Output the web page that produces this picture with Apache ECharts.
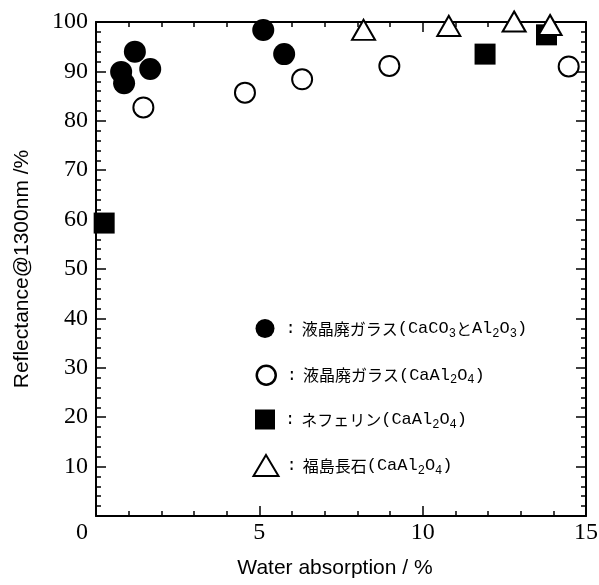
<!DOCTYPE html>
<html>
<head>
<meta charset="utf-8">
<script src="https://cdn.jsdelivr.net/npm/echarts@6/dist/echarts.min.js"></script>
<style>
  html, body { margin: 0; padding: 0; background: #fff; }
  #chart { width: 599px; height: 585px; }
</style>
</head>
<body>
<div id="chart"></div>
<script>
// Reflectance at 1300 nm (%) against water absorption (%)
const seriesNames = [
  '液晶廃ガラス(CaCO3とAl2O3)',
  '液晶廃ガラス(CaAl2O4)',
  'ネフェリン(CaAl2O4)',
  '福島長石(CaAl2O4)'
];
// [water absorption %, reflectance %]
const glassCaCO3Al2O3 = [[0.77, 89.9], [0.86, 87.6], [1.19, 94.0], [1.66, 90.5], [5.12, 98.4], [5.76, 93.5]];
const glassCaAl2O4 = [[1.45, 82.7], [4.56, 85.7], [6.31, 88.4], [8.98, 91.1], [14.47, 91.0]];
const nephelineCaAl2O4 = [[0.25, 59.3], [11.91, 93.5], [13.79, 97.4]];
const fukushimaFeldsparCaAl2O4 = [[8.19, 98.4], [10.8, 99.2], [12.8, 100.1], [13.9, 99.4]];

const xRange = { min: 0, max: 15, interval: 5 };
const yRange = { min: 0, max: 100, interval: 10 };

const BLACK = '#000';
const serifFont = "'Liberation Serif', 'Times New Roman', serif";
const sansFont = "'Liberation Sans', Arial, sans-serif";
const monoFont = "'Liberation Mono', 'DejaVu Sans Mono', monospace";
const cjkFont = "'Noto Sans CJK JP', sans-serif";

// Legend text: CJK glyphs, Latin letters, and digits as subscripts
function legendRich(name, iconWidth) {
  const padLeft = Math.max(0, 285 - (270 + iconWidth / 2));
  let out = '{c' + Math.round(padLeft) + '|:}';
  for (const ch of name) {
    let cls = 'l';
    if (/[0-9]/.test(ch)) cls = 's';
    else if (/[\u3000-\u9fff\uff00-\uffef]/.test(ch)) cls = 'j';
    out += '{' + cls + '|' + ch + '}';
  }
  return out;
}
const richStyles = {
  j: { fontFamily: cjkFont, fontSize: 16, lineHeight: 22, color: BLACK },
  l: { fontFamily: monoFont, fontSize: 17, lineHeight: 22, color: BLACK },
  s: { fontFamily: monoFont, fontSize: 12, lineHeight: 14, verticalAlign: 'bottom', color: BLACK }
};
for (let p = 0; p <= 10; p++) {
  richStyles['c' + p] = { fontFamily: monoFont, fontSize: 17, lineHeight: 22, color: BLACK, padding: [0, 6, 0, p] };
}

const legendRows = [
  { name: seriesNames[0], icon: 'circle', w: 19, h: 19, y: 330, style: { color: BLACK, borderWidth: 0, opacity: 1 } },
  { name: seriesNames[1], icon: 'circle', w: 19, h: 19, y: 375.5, style: { color: '#fff', borderColor: BLACK, borderWidth: 2.5, opacity: 1 } },
  { name: seriesNames[2], icon: 'rect', w: 20, h: 20, y: 420.5, style: { color: BLACK, borderWidth: 0, opacity: 1 } },
  { name: seriesNames[3], icon: 'triangle', w: 25, h: 21, y: 465, style: { color: '#fff', borderColor: BLACK, borderWidth: 2, opacity: 1 } }
];

const legends = legendRows.map(r => ({
  show: true,
  orient: 'vertical',
  left: 265 - r.w / 2,
  top: r.y - 11,
  padding: 0,
  itemWidth: r.w,
  itemHeight: r.h,
  selectedMode: false,
  data: [{ name: r.name, icon: r.icon, itemStyle: r.style }],
  itemStyle: r.style,
  formatter: name => legendRich(name, r.w),
  textStyle: { color: BLACK, rich: richStyles }
}));

const tickLine = { color: BLACK, width: 1.5 };
function frameAxis(range, position, extra) {
  return Object.assign({
    type: 'value',
    position: position,
    min: range.min,
    max: range.max,
    interval: range.interval,
    axisLine: { show: true, onZero: false, lineStyle: { color: BLACK, width: 2 } },
    axisTick: { show: true, inside: true, length: 10, lineStyle: tickLine },
    minorTick: { show: true, splitNumber: 5, length: 5, lineStyle: tickLine },
    splitLine: { show: false },
    minorSplitLine: { show: false },
    axisLabel: { show: false }
  }, extra || {});
}

const option = {
  animation: false,
  backgroundColor: '#fff',
  grid: { left: 96, right: 13, top: 22, bottom: 69, containLabel: false, outerBoundsMode: 'none' },
  legend: legends,
  xAxis: [
    frameAxis(xRange, 'bottom', {
      name: 'Water absorption / %',
      nameLocation: 'middle',
      nameGap: 42,
      nameTextStyle: { fontFamily: sansFont, fontSize: 21, color: BLACK, padding: [0, 12, 0, 0] },
      axisLabel: {
        show: true,
        margin: 5,
        color: BLACK,
        fontFamily: serifFont,
        fontSize: 24,
        formatter: v => (v === 0 ? '{z|0}' : String(v)),
        rich: { z: { fontFamily: serifFont, fontSize: 24, color: BLACK, padding: [0, 28, 0, 0] } }
      }
    }),
    frameAxis(xRange, 'top')
  ],
  yAxis: [
    frameAxis(yRange, 'left', {
      name: 'Reflectance@1300nm /%',
      nameLocation: 'middle',
      nameGap: 63,
      nameRotate: 90,
      nameTextStyle: { fontFamily: sansFont, fontSize: 21, color: BLACK },
      axisLabel: {
        show: true,
        margin: 8,
        color: BLACK,
        fontFamily: serifFont,
        fontSize: 24,
        formatter: v => (v === 0 ? '' : String(v))
      }
    }),
    frameAxis(yRange, 'right')
  ],
  series: [
    {
      name: seriesNames[0], type: 'scatter', data: glassCaCO3Al2O3, clip: false,
      symbol: 'circle', symbolSize: 22, itemStyle: { color: BLACK, opacity: 1 }
    },
    {
      name: seriesNames[1], type: 'scatter', data: glassCaAl2O4, clip: false,
      symbol: 'circle', symbolSize: 20, itemStyle: { color: '#fff', borderColor: BLACK, borderWidth: 2, opacity: 1 }
    },
    {
      name: seriesNames[2], type: 'scatter', data: nephelineCaAl2O4, clip: false,
      symbol: 'rect', symbolSize: 21, itemStyle: { color: BLACK, opacity: 1 }
    },
    {
      name: seriesNames[3], type: 'scatter', data: fukushimaFeldsparCaAl2O4, clip: false,
      symbol: 'triangle', symbolSize: [23, 20], itemStyle: { color: '#fff', borderColor: BLACK, borderWidth: 2, opacity: 1 }
    }
  ]
};

const chart = echarts.init(document.getElementById('chart'), null, { renderer: 'canvas' });
chart.setOption(option);
</script>
</body>
</html>
